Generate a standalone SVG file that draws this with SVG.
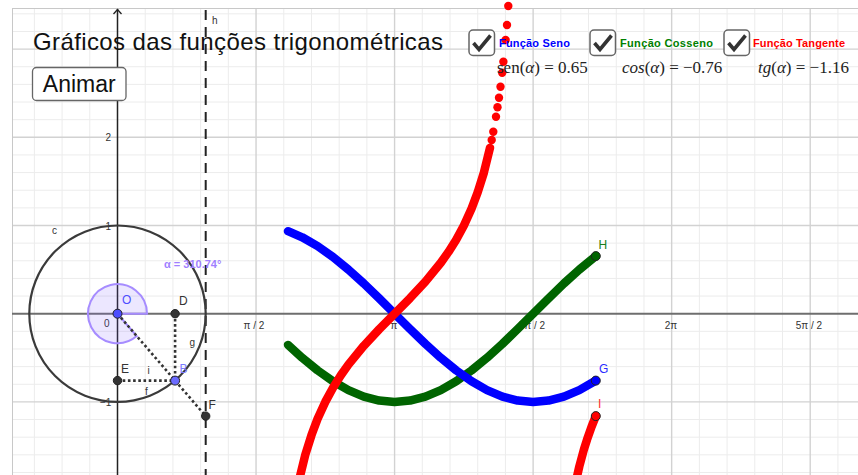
<svg xmlns="http://www.w3.org/2000/svg" width="858" height="475" viewBox="0 0 858 475">
<style>
.minor{stroke:#ececec;stroke-width:1;fill:none}
.major{stroke:#d2d2d2;stroke-width:1.4;fill:none}
.lbl{font-family:"Liberation Sans",Arial,sans-serif;font-size:12px}
.tick{font-family:"Liberation Sans",Arial,sans-serif;font-size:10px;fill:#333}
.dot{stroke:#333;stroke-width:2.6;stroke-dasharray:2.6 2.6;fill:none}
.pt{stroke:#222;stroke-width:1}
.cb{fill:#fff;stroke:#666;stroke-width:1.5}
.ck{fill:none;stroke:#333;stroke-width:3.6;stroke-linejoin:miter}
.cap{font-family:"Liberation Sans",Arial,sans-serif;font-size:11px;font-weight:bold}
.fx{font-family:"Liberation Serif","Times New Roman",serif;font-size:17px;fill:#222}
.curve{fill:none;stroke-width:8.5;stroke-linecap:round;stroke-linejoin:round}
</style>
<rect x="0" y="0" width="858" height="475" fill="#fff"/>
<g id="grid">
<path class="minor" d="M34.38,8V475M62.08,8V475M89.79,8V475M145.21,8V475M172.92,8V475M200.62,8V475M228.33,8V475M283.75,8V475M311.46,8V475M339.17,8V475M366.87,8V475M422.29,8V475M450,8V475M477.71,8V475M505.41,8V475M560.83,8V475M588.54,8V475M616.25,8V475M643.96,8V475M699.37,8V475M727.08,8V475M754.79,8V475M782.5,8V475M837.91,8V475
M12,13.82H858M12,31.46H858M12,66.74H858M12,84.38H858M12,102.02H858M12,119.66H858M12,154.94H858M12,172.58H858M12,190.22H858M12,207.86H858M12,243.14H858M12,260.78H858M12,278.42H858M12,296.06H858M12,331.34H858M12,348.98H858M12,366.62H858M12,384.26H858M12,419.54H858M12,437.18H858M12,454.82H858M12,472.46H858"/>
<path class="major" d="M256.04,8V475M394.58,8V475M533.12,8V475M671.66,8V475M810.21,8V475M12,49.1H858M12,137.3H858M12,225.5H858M12,401.9H858"/>
<rect x="12.5" y="8.5" width="860" height="480" fill="none" stroke="#c8c8c8" stroke-width="1"/>
</g>
<g id="axes">
<line x1="12" y1="313.7" x2="858" y2="313.7" stroke="#6e6e6e" stroke-width="2"/>
<line x1="117.5" y1="9" x2="117.5" y2="475" stroke="#222" stroke-width="1.5"/>
<polyline points="113.5,14 117.5,9.5 121.5,14" fill="none" stroke="#222" stroke-width="1.3"/>
<text class="tick" x="105.5" y="141">2</text>
<text class="tick" x="105.5" y="230">1</text>
<text class="tick" x="100" y="406">−1</text>
<text class="tick" x="104" y="327">0</text>
<text class="tick" x="254" y="329" text-anchor="middle">π / 2</text>
<text class="tick" x="394" y="329" text-anchor="middle">π</text>
<text class="tick" x="532" y="329" text-anchor="middle">3π / 2</text>
<text class="tick" x="671" y="329" text-anchor="middle">2π</text>
<text class="tick" x="809" y="329" text-anchor="middle">5π / 2</text>
</g>
<g id="line-h">
<line x1="205.7" y1="10" x2="205.7" y2="475" stroke="#222" stroke-width="2" stroke-dasharray="10 7"/>
<text class="tick" x="212" y="24" fill="#222">h</text>
</g>
<g id="circle-c">
<circle cx="117.5" cy="313.7" r="88.2" fill="none" stroke="#3a3a3a" stroke-width="2.2"/>
<text class="tick" x="52" y="234">c</text>
</g>
<g id="angle-alpha">
<path d="M117.5,313.7 L147,313.7 A29.5,29.5 0 1 0 136.75,336.06 Z" fill="#7f5fff" fill-opacity="0.15" stroke="#a68cff" stroke-width="2"/>
<text x="164" y="268" font-family="Liberation Sans,Arial,sans-serif" font-size="11" font-weight="bold" fill="#a07fff">α = 310.74°</text>
</g>
<g id="connectors">
<line class="dot" x1="117.5" y1="313.7" x2="205.7" y2="416.1"/>
<line class="dot" x1="175.1" y1="313.7" x2="175.1" y2="380.6"/>
<line class="dot" x1="117.5" y1="380.6" x2="175.1" y2="380.6"/>
</g>
<g id="segment-labels">
<text class="tick" x="189.5" y="346">g</text>
<text class="tick" x="147.5" y="374">i</text>
<text class="tick" x="145" y="395">f</text>
</g>
<g id="curve-cos">
<polyline class="curve" stroke="#006400" points="288,344.9 302.2,357.8 317.6,370.4 333,381.3 348.4,390.1 363.8,396.6 379.2,400.6 394.6,401.9 410,400.6 425.4,396.6 440.8,390.1 456.2,381.3 471.6,370.4 487,357.8 502.4,343.9 517.7,329 533.1,313.7 548.5,298.4 563.9,283.5 579.3,269.6 594.7,257 595.8,256.1"/>
</g>
<g id="curve-sin">
<polyline class="curve" stroke="#0000ff" points="288,231.2 302.2,237.3 317.6,246.1 333,257 348.4,269.6 363.8,283.5 379.2,298.4 394.6,313.7 410,329 425.4,343.9 440.8,357.8 456.2,370.4 471.6,381.3 487,390.1 502.4,396.6 517.7,400.6 533.1,401.9 548.5,400.6 563.9,396.6 579.3,390.1 594.7,381.3 595.8,380.6"/>
</g>
<g id="curve-tan" fill="#ff0000">
<polyline class="curve" stroke="#ff0000" points="299.2,479.6 305.3,454.8 311.5,435.1 317.6,418.8 325.3,401.9 333,387.7 340.7,375.5 348.4,364.6 363.8,345.8 379.2,329.25 394.6,313.7 410,298.15 425.4,281.6 440.8,262.8 448.5,251.9 456.2,239.7 463.9,225.5 471.6,208.6 477.7,192.3 483.9,172.6 490,147.8"/>
<polyline class="curve" stroke="#ff0000" points="574.7,486.8 579.3,466.5 583.9,449.5 587,439.7 591.6,426.6 595.8,416.1"/>
<circle cx="491.7" cy="140" r="4.2"/>
<circle cx="493.3" cy="131.7" r="4.2"/>
<circle cx="496" cy="116.7" r="4.2"/>
<circle cx="497.5" cy="107.3" r="4.2"/>
<circle cx="499" cy="97.7" r="4.2"/>
<circle cx="500.5" cy="86.7" r="4.2"/>
<circle cx="502.2" cy="72.7" r="4.2"/>
<circle cx="503.4" cy="61.7" r="4.2"/>
<circle cx="505.6" cy="40" r="4.2"/>
<circle cx="507" cy="25" r="4.2"/>
<circle cx="508.3" cy="6" r="4.2"/>
</g>
<g id="point-G"><circle class="pt" cx="595.8" cy="380.6" r="4.5" fill="#0000ff"/><text class="lbl" x="599" y="373" fill="#2a2aff">G</text></g>
<g id="point-H"><circle class="pt" cx="595.8" cy="256.1" r="4.5" fill="#006400"/><text class="lbl" x="598.5" y="249" fill="#1a801a">H</text></g>
<g id="point-I"><circle class="pt" cx="595.8" cy="416.1" r="4.5" fill="#ff0000"/><text class="lbl" x="598" y="408" fill="#ff3030">I</text></g>
<g id="point-O"><circle class="pt" cx="117.5" cy="313.7" r="4.5" fill="#4d4dff"/><text class="lbl" x="122" y="304" fill="#4d4dff">O</text></g>
<g id="point-D"><circle class="pt" cx="175.1" cy="313.7" r="4.2" fill="#333"/><text class="lbl" x="179" y="305" fill="#333">D</text></g>
<g id="point-E"><circle class="pt" cx="117.5" cy="380.6" r="4.2" fill="#333"/><text class="lbl" x="121" y="373" fill="#333">E</text></g>
<g id="point-B"><circle class="pt" cx="175.1" cy="380.6" r="4.5" fill="#6b6bff"/><text class="lbl" x="179.5" y="373" fill="#7a7aff">B</text></g>
<g id="point-F"><circle class="pt" cx="205.7" cy="416.1" r="4.2" fill="#333"/><text class="lbl" x="208.5" y="409" fill="#333">F</text></g>
<g id="title">
<text x="33" y="50" font-family="Liberation Sans,Arial,sans-serif" font-size="24" fill="#111" textLength="410" lengthAdjust="spacing">Gráficos das funções trigonométricas</text>
</g>
<g id="button-animar">
<rect x="32.5" y="67.5" width="93.5" height="33" rx="4" fill="#fff" stroke="#666" stroke-width="1.3"/>
<text x="79.3" y="92" font-family="Liberation Sans,Arial,sans-serif" font-size="23" fill="#111" text-anchor="middle">Animar</text>
</g>
<g id="check-seno">
<rect class="cb" x="469" y="30" width="25.5" height="25.5" rx="4"/>
<path class="ck" d="M473.5,43 L479,49.5 L490.5,35.5"/>
<text class="cap" x="499" y="47" fill="#0000ff" textLength="71" lengthAdjust="spacing">Função Seno</text>
</g>
<g id="check-cosseno">
<rect class="cb" x="590" y="30" width="25.5" height="25.5" rx="4"/>
<path class="ck" d="M594.5,43 L600,49.5 L611.5,35.5"/>
<text class="cap" x="620" y="47" fill="#008000" textLength="93" lengthAdjust="spacing">Função Cosseno</text>
</g>
<g id="check-tangente">
<rect class="cb" x="724" y="30" width="25.5" height="25.5" rx="4"/>
<path class="ck" d="M728.5,43 L734,49.5 L745.5,35.5"/>
<text class="cap" x="753" y="47" fill="#ff0000" textLength="92" lengthAdjust="spacing">Função Tangente</text>
</g>
<g id="formula-sen"><text class="fx" x="497" y="73">sen(<tspan font-style="italic">α</tspan>) = 0.65</text></g>
<g id="formula-cos"><text class="fx" x="622" y="73"><tspan font-style="italic">cos</tspan>(<tspan font-style="italic">α</tspan>) = −0.76</text></g>
<g id="formula-tg"><text class="fx" x="758" y="73"><tspan font-style="italic">tg</tspan>(<tspan font-style="italic">α</tspan>) = −1.16</text></g>
</svg>
